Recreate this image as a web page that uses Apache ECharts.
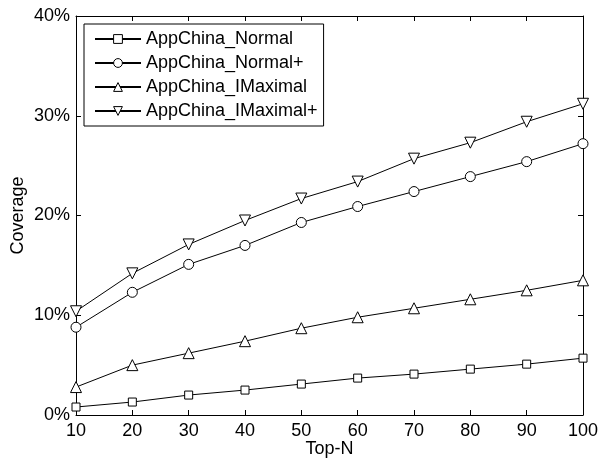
<!DOCTYPE html>
<html>
<head>
<meta charset="utf-8">
<script src="https://cdn.jsdelivr.net/npm/echarts@6/dist/echarts.min.js"></script>
<style>
html,body{margin:0;padding:0;background:#fff;}
#chart{width:598px;height:460px;}
</style>
</head>
<body>
<div id="chart"></div>
<script>
var topN = [10, 20, 30, 40, 50, 60, 70, 80, 90, 100];
var normal = [0.8, 1.3, 2.0, 2.5, 3.1, 3.7, 4.1, 4.6, 5.1, 5.7];
var normalPlus = [8.8, 12.3, 15.1, 17.0, 19.3, 20.9, 22.4, 23.9, 25.4, 27.2];
var iMaximal = [2.8, 5.0, 6.2, 7.4, 8.7, 9.8, 10.7, 11.6, 12.5, 13.5];
var iMaximalPlus = [10.4, 14.2, 17.1, 19.5, 21.7, 23.4, 25.7, 27.3, 29.4, 31.2];
var seriesNames = ['AppChina_Normal', 'AppChina_Normal+', 'AppChina_IMaximal', 'AppChina_IMaximal+'];
var yTicks = [0, 10, 20, 30, 40];

function pairs(vals) { return topN.map(function (x, i) { return [x, vals[i]]; }); }

var font = 'Liberation Sans, Arial, Helvetica, sans-serif';
function mk(name, vals, symbol, size, rot) {
  return {
    name: name, type: 'line', data: pairs(vals),
    symbol: symbol, symbolSize: size, symbolRotate: rot || 0,
    showAllSymbol: true,
    lineStyle: { color: '#000', width: 1 },
    itemStyle: { color: '#fff', borderColor: '#000', borderWidth: 1 },
    emphasis: { disabled: true },
    animation: false, z: 3
  };
}

var chart = echarts.init(document.getElementById('chart'), null, { renderer: 'canvas' });
var axisCommon = {
  axisLine: { show: true, onZero: false, lineStyle: { color: '#000', width: 1 } },
  axisTick: { show: true, inside: true, length: 5, lineStyle: { color: '#000' } },
  splitLine: { show: false }
};
chart.setOption({
  backgroundColor: '#fff',
  animation: false,
  grid: { left: 76, right: 15, top: 16, bottom: 45, containLabel: false, outerBoundsMode: 'none' },
  legend: {
    orient: 'vertical', left: 84, top: 24,
    data: seriesNames,
    borderColor: '#000', borderWidth: 1,
    padding: [6, 6, 6, 10],
    itemWidth: 46, itemHeight: 11, itemGap: 6,
    itemStyle: { color: '#fff', borderColor: '#000', borderWidth: 1 },
    textStyle: { fontFamily: font, fontSize: 18, color: '#000' },
    backgroundColor: '#fff'
  },
  xAxis: [
    Object.assign({
      type: 'value', min: 10, max: 100, interval: 10, position: 'bottom',
      name: 'Top-N', nameLocation: 'middle', nameGap: 25, nameMoveOverlap: false,
      nameTextStyle: { fontFamily: font, fontSize: 18, color: '#000' },
      axisLabel: { fontFamily: font, fontSize: 18, color: '#000', margin: 7 }
    }, axisCommon),
    Object.assign({
      type: 'value', min: 10, max: 100, interval: 10, position: 'top',
      axisLabel: { show: false }
    }, axisCommon)
  ],
  yAxis: [
    Object.assign({
      type: 'value', min: yTicks[0], max: yTicks[yTicks.length - 1], interval: 10, position: 'left',
      name: 'Coverage', nameLocation: 'middle', nameGap: 49, nameMoveOverlap: false,
      nameTextStyle: { fontFamily: font, fontSize: 18, color: '#000' },
      axisLabel: { fontFamily: font, fontSize: 18, color: '#000', margin: 6, formatter: '{value}%' }
    }, axisCommon),
    Object.assign({
      type: 'value', min: yTicks[0], max: yTicks[yTicks.length - 1], interval: 10, position: 'right',
      axisLabel: { show: false }
    }, axisCommon)
  ],
  series: [
    mk(seriesNames[0], normal, 'rect', 8),
    mk(seriesNames[1], normalPlus, 'circle', 10),
    mk(seriesNames[2], iMaximal, 'triangle', 11),
    mk(seriesNames[3], iMaximalPlus, 'triangle', 11, 180)
  ]
});
</script>
</body>
</html>
